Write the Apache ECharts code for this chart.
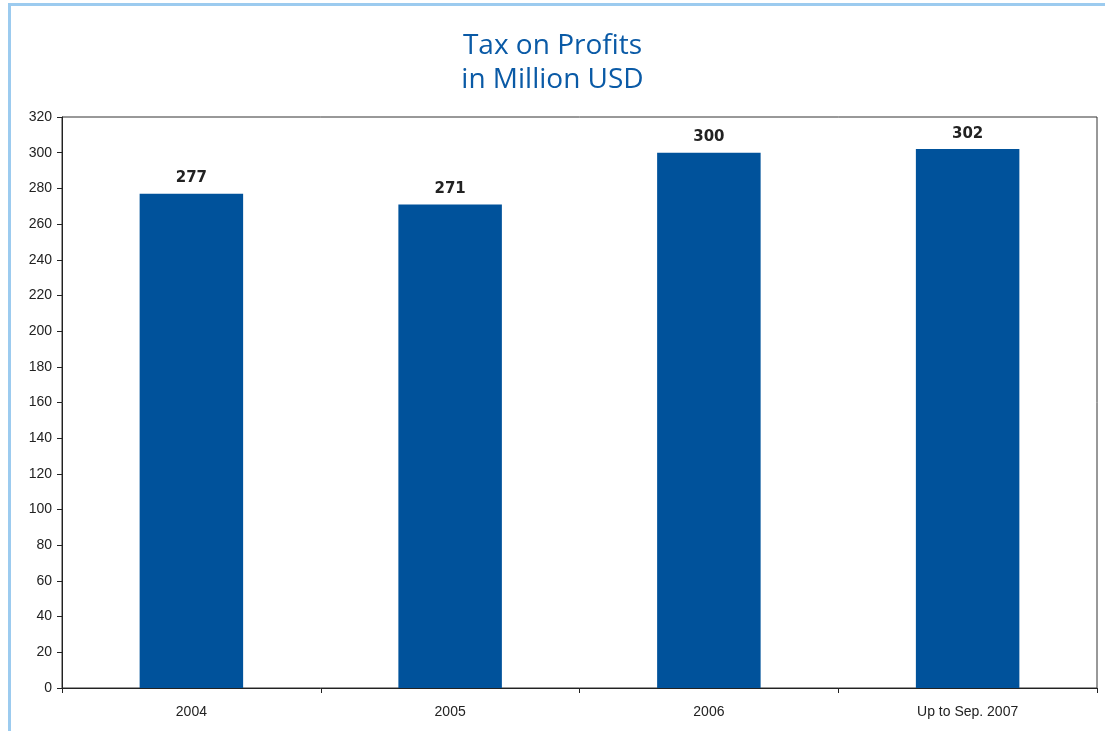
<!DOCTYPE html>
<html>
<head>
<meta charset="utf-8">
<script src="https://cdn.jsdelivr.net/npm/echarts@6/dist/echarts.min.js"></script>
<style>
  html, body { margin: 0; padding: 0; background: #fff; }
  #chart { width: 1105px; height: 731px; }
</style>
</head>
<body>
<div id="chart"></div>
<script>
// Tax on profits, million USD
const categories = ['2004', '2005', '2006', 'Up to Sep. 2007'];
const taxValues = [277, 271, 300, 302];
const yTicks = { min: 0, max: 320, interval: 20 };

const chart = echarts.init(document.getElementById('chart'));
chart.setOption({
  animation: false,
  backgroundColor: '#ffffff',
  title: {
    text: 'Tax on Profits\nin Million USD',
    left: 'center',
    top: 24,
    textStyle: {
      color: '#0a5aa6',
      fontFamily: '"Open Sans", "Noto Sans", sans-serif',
      fontSize: 28,
      fontWeight: 'normal',
      lineHeight: 34
    }
  },
  graphic: [
    { type: 'line', shape: { x1: 9.5, y1: 4, x2: 9.5, y2: 731 }, style: { stroke: '#9ccbef', lineWidth: 3 } },
    { type: 'line', shape: { x1: 8, y1: 4.5, x2: 1105, y2: 4.5 }, style: { stroke: '#9ccbef', lineWidth: 3 } }
  ],
  grid: {
    left: 62, right: 8, top: 117, bottom: 43,
    show: true, borderColor: '#333', borderWidth: 1, backgroundColor: 'transparent'
  },
  xAxis: {
    type: 'category',
    data: categories,
    axisLine: { lineStyle: { color: '#222', width: 1 } },
    axisTick: { show: true, alignWithLabel: false, length: 5, lineStyle: { color: '#222' } },
    axisLabel: { color: '#222', fontFamily: '"Liberation Sans", Arial, sans-serif', fontSize: 14, margin: 17 }
  },
  yAxis: {
    type: 'value',
    min: yTicks.min, max: yTicks.max, interval: yTicks.interval,
    axisLine: { show: true, lineStyle: { color: '#222', width: 1 } },
    axisTick: { show: true, length: 5, lineStyle: { color: '#222' } },
    splitLine: { show: false },
    axisLabel: { color: '#222', fontFamily: '"Liberation Sans", Arial, sans-serif', fontSize: 14, margin: 10 }
  },
  series: [{
    type: 'bar',
    data: taxValues,
    barWidth: '40%',
    itemStyle: { color: '#00529b' },
    label: {
      show: true,
      position: 'top',
      distance: 8,
      color: '#222',
      fontFamily: '"DejaVu Sans", sans-serif',
      fontWeight: 'bold',
      fontSize: 15
    }
  }]
});
</script>
</body>
</html>
